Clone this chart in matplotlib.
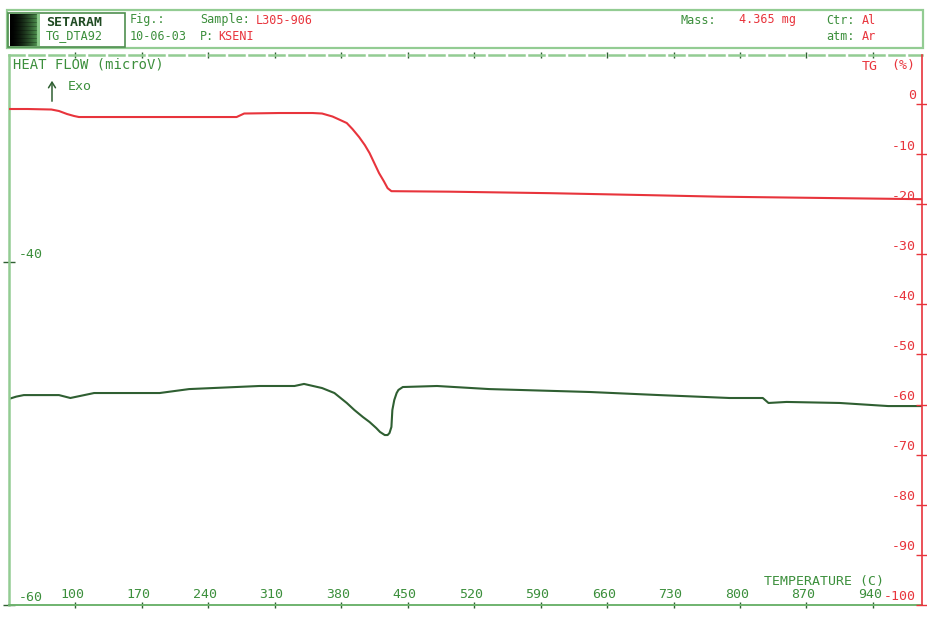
import matplotlib
matplotlib.use("Agg")
import matplotlib.pyplot as plt
import numpy as np
from matplotlib.patches import Rectangle, FancyArrowPatch

# ---- data -------------------------------------------------------------
# Heat flow (DTA signal, microV) versus temperature (C)
temp_hf = [30, 38, 46, 83, 95, 120, 189, 220, 294, 331, 341, 360, 373, 386,
           394, 403, 410, 417, 421, 426, 429, 431, 433, 434, 436, 438.5, 440.4,
           445, 481, 536, 642, 715, 789, 824, 830, 849, 905, 956, 992]
heat_flow = [-47.99, -47.85, -47.76, -47.76, -47.93, -47.64, -47.64, -47.41,
             -47.23, -47.23, -47.11, -47.35, -47.64, -48.22, -48.63, -49.04,
             -49.33, -49.68, -49.91, -50.09, -50.09, -49.97, -49.62, -48.63,
             -48.05, -47.64, -47.46, -47.29, -47.23, -47.41, -47.58, -47.76,
             -47.93, -47.93, -48.22, -48.16, -48.22, -48.40, -48.40]

# Mass change (TG, %) versus temperature (C)
temp_tg = [30, 50, 75, 83, 91.5, 99, 104, 150, 200, 270, 278, 315, 350, 360,
           371, 378, 386, 392, 399, 405, 410, 415, 420, 425, 429, 433, 494,
           600, 705, 779, 863, 992]
tg = [-1.0, -1.0, -1.1, -1.4, -2.0, -2.4, -2.6, -2.6, -2.6, -2.6, -1.9, -1.8,
      -1.8, -1.9, -2.5, -3.1, -3.8, -5.0, -6.6, -8.2, -9.8, -11.8, -13.8,
      -15.4, -16.8, -17.4, -17.5, -17.8, -18.2, -18.5, -18.7, -19.0]

x_ticks = [100, 170, 240, 310, 380, 450, 520, 590, 660, 730, 800, 870, 940]
hf_ticks = [-40, -60]
tg_ticks = [0, -10, -20, -30, -40, -50, -60, -70, -80, -90, -100]

# ---- style ------------------------------------------------------------
MONO = "DejaVu Sans Mono"
GREEN_TXT = "#3c8f3c"
GREEN_DARK = "#2f5f32"
GREEN_LIGHT = "#93cc93"
RED = "#e8343c"

W, H = 928, 617
fig = plt.figure(figsize=(W / 100, H / 100), dpi=100)
fig.patch.set_facecolor("white")


def fx(px):
    return px / W


def fy(py):
    return 1 - py / H


def ftext(px, py, s, color=GREEN_TXT, size=8.5, **kw):
    fig.text(fx(px), fy(py), s, color=color, fontsize=size, family=MONO,
             va="center", ha=kw.pop("ha", "left"), **kw)


# ---- header block -----------------------------------------------------
fig.patches.append(Rectangle((fx(7), fy(48)), fx(923 - 7), (48 - 10) / H,
                             transform=fig.transFigure, fill=False,
                             edgecolor=GREEN_LIGHT, lw=1.6))
fig.patches.append(Rectangle((fx(8), fy(47)), fx(125 - 8), (47 - 13) / H,
                             transform=fig.transFigure, fill=False,
                             edgecolor="#4f8f4f", lw=1.2))
# logo: dark gradient block
logo = fig.add_axes([fx(10), fy(46), fx(30), 32 / H])
g = np.linspace(0, 1, 60) ** 1.6
rows = 1 - 0.25 * (np.arange(32) % 4 == 0)
img = np.zeros((32, 60, 3))
for c, v in enumerate([0.35, 0.65, 0.35]):
    img[:, :, c] = (g * v)[None, :] * rows[:, None]
img[:, -6:, :] = np.array([0.55, 0.8, 0.55])
logo.imshow(img, aspect="auto")
logo.axis("off")

ftext(46, 22, "SETARAM", color="#1f4a22", size=9.5, weight="bold")
ftext(46, 36, "TG_DTA92", size=8.5)
ftext(130, 20, "Fig.:")
ftext(130, 36, "10-06-03")
ftext(200, 20, "Sample:")
ftext(256, 20, "L305-906", color=RED)
ftext(200, 36, "P:")
ftext(218, 36, "KSENI", color=RED)
ftext(681, 20, "Mass:")
ftext(739, 20, "4.365 mg", color=RED)
ftext(826, 20, "Ctr:")
ftext(862, 20, "Al", color=RED)
ftext(826, 36, "atm:")
ftext(862, 36, "Ar", color=RED)

# ---- plot area --------------------------------------------------------
PL, PR, PT, PB = 9, 922, 55, 605
ax = fig.add_axes([fx(PL), fy(PB), fx(PR - PL), (PB - PT) / H])
ax.set_facecolor("none")
ax.plot(temp_hf, heat_flow, color=GREEN_DARK, lw=1.5, solid_joinstyle="round")
ax.set_xlim(30.4, 991.6)
ax.set_ylim(-60, -27.93)

ax2 = ax.twinx()
ax2.plot(temp_tg, tg, color=RED, lw=1.5, solid_joinstyle="round")
ax2.set_ylim(-100, 9.78)

for a in (ax, ax2):
    for s in a.spines.values():
        s.set_visible(False)
ax.spines["left"].set_visible(True)
ax.spines["left"].set_color(GREEN_LIGHT)
ax.spines["left"].set_linewidth(1.8)
ax.spines["bottom"].set_visible(True)
ax.spines["bottom"].set_color("#6fb36f")
ax.spines["bottom"].set_linewidth(1.4)
ax.spines["top"].set_visible(True)
ax.spines["top"].set_color(GREEN_LIGHT)
ax.spines["top"].set_linewidth(1.8)
ax.spines["top"].set_linestyle((0, (6, 2)))
ax2.spines["right"].set_visible(True)
ax2.spines["right"].set_color(RED)
ax2.spines["right"].set_linewidth(1.2)

ax.set_xticks(x_ticks)
ax.tick_params(axis="x", which="both", direction="inout", length=4, width=1,
               color=GREEN_DARK, top=True, bottom=True,
               labelbottom=False, labeltop=False)
ax.set_yticks(hf_ticks)
ax.tick_params(axis="y", direction="inout", length=8, width=1,
               color=GREEN_DARK, labelleft=False)
ax2.set_yticks(tg_ticks)
ax2.tick_params(axis="y", direction="inout", length=8, width=1,
                color=RED, labelright=False)

# tick labels sit inside the frame, just above their ticks
for t in x_ticks:
    ax.annotate(f"{t}", xy=(t, 0), xycoords=("data", "axes fraction"),
                xytext=(-3, 10), textcoords="offset pixels", ha="center",
                va="center", color=GREEN_TXT, fontsize=9.5, family=MONO)
for v in hf_ticks:
    ax.annotate(f"{v}", xy=(0, v), xycoords=("axes fraction", "data"),
                xytext=(34, 8), textcoords="offset pixels", ha="right",
                va="center", color=GREEN_TXT, fontsize=9.5, family=MONO)
for v in tg_ticks:
    ax2.annotate(f"{v}", xy=(1, v), xycoords=("axes fraction", "data"),
                 xytext=(-6, 8), textcoords="offset pixels", ha="right",
                 va="center", color=RED, fontsize=9.5, family=MONO)

# axis captions
ftext(13, 65, "HEAT FLOW (microV)", size=10)
ftext(68, 86, "Exo", size=9.5)
fig.add_artist(FancyArrowPatch(
    (fx(52), fy(104)), (fx(52), fy(78)), transform=fig.transFigure,
    arrowstyle="->,head_length=4,head_width=2.5", color=GREEN_DARK, lw=1.1))
ftext(764, 581, "TEMPERATURE (C)", size=9.5)
ftext(862, 66, "TG", color=RED, size=9.5)
ftext(891, 66, "(%)", color=RED, size=9.5)

fig.savefig("out.png", dpi=100, facecolor="white")
